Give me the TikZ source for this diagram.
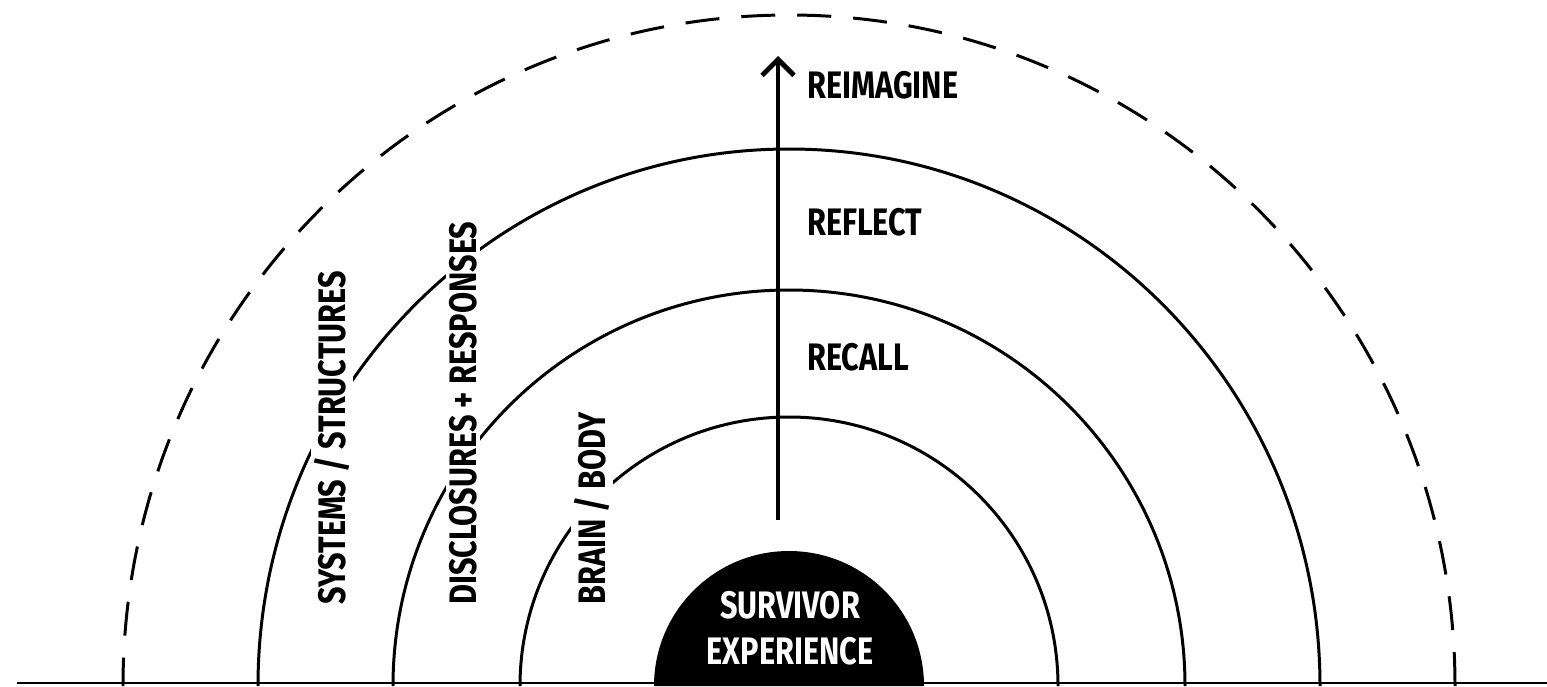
\documentclass[tikz,border=0pt]{standalone}
\usepackage{fontspec}
\usetikzlibrary{arrows.meta}
\newfontfamily\ringfont{Fira Sans}[FakeStretch=0.8]

\begin{document}
\begin{tikzpicture}[
    ring/.style={line width=0.85pt, draw=black},
    lbl/.style={font=\ringfont\bfseries\fontsize{10.9}{13}\selectfont, inner sep=1pt},
    sidelbl/.style={lbl, fill=white, rotate=90, anchor=west},
  ]
  \useasboundingbox (0,0) rectangle (15.47,6.86);
  % ground line
  \draw[line width=0.8pt] (0.17,0.03) -- (15.47,0.03);
  % rings around the core
  \draw[ring, dash pattern=on 0.34cm off 0.22cm] (14.55,0) arc[start angle=0, end angle=180, x radius=6.66, y radius=6.71];
  \draw[ring] (13.2,0) arc[start angle=0, end angle=180, x radius=5.31, y radius=5.37];
  \draw[ring] (11.85,0) arc[start angle=0, end angle=180, radius=3.96];
  \draw[ring] (10.58,0) arc[start angle=0, end angle=180, radius=2.69];
  \fill[black] (9.24,0) arc[start angle=0, end angle=180, radius=1.35] -- cycle;
  \node[lbl, text=white, align=center] (core) at (7.9,0.58) {SURVIVOR\\EXPERIENCE};
  % arrow outward
  \coordinate (arrowfoot) at (7.78,1.66);
  \coordinate (arrowtip) at (7.78,6.3);
  \draw[line width=1pt, -{Straight Barb[length=1.6mm, width=3.2mm, line width=1.4pt]}] (arrowfoot) -- (arrowtip);
  \node[lbl, anchor=west] (reimagine) at (8.03,6.01) {REIMAGINE};
  \node[lbl, anchor=west] (reflect) at (8.03,4.64) {REFLECT};
  \node[lbl, anchor=west] (recall) at (8.03,3.29) {RECALL};
  % ring labels
  \node[sidelbl] (systems) at (3.32,0.77) {SYSTEMS / STRUCTURES};
  \node[sidelbl] (disclosures) at (4.63,0.77) {DISCLOSURES + RESPONSES};
  \node[sidelbl] (brain) at (5.92,0.77) {BRAIN / BODY};
\end{tikzpicture}
\end{document}
